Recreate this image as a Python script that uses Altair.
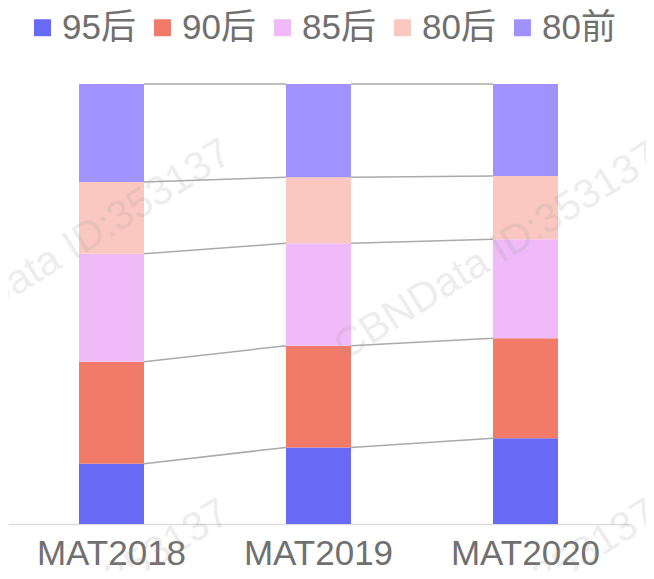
import altair as alt
import pandas as pd

categories = ["MAT2018", "MAT2019", "MAT2020"]
series = ["95后", "90后", "85后", "80后", "80前"]
colors = ["#686AF5", "#F27A68", "#EFBAF7", "#FAC8C0", "#A193FF"]

v95 = [13.7, 17.4, 19.5]
v90 = [23.2, 23.1, 22.7]
v85 = [24.5, 23.3, 22.5]
v80 = [16.3, 15.0, 14.4]
v80q = [22.3, 21.2, 20.9]

values = [v95, v90, v85, v80, v80q]

FONT = "Liberation Sans, Noto Sans CJK SC"
W, H = 621, 440
BAR = 65
STEP = W / 3
hw = (BAR / 2) / STEP
pin = 1 - BAR / STEP

rows = []
for si, s in enumerate(series):
    for ci, c in enumerate(categories):
        rows.append({"cat": c, "series": s, "rank": si, "value": values[si][ci]})
df = pd.DataFrame(rows)

cum = []
for ci in range(len(categories)):
    acc, lst = 0.0, []
    for si in range(len(series)):
        acc += values[si][ci]
        lst.append(acc)
    cum.append(lst)
lrows = []
for ci in range(len(categories) - 1):
    for si in range(len(series)):
        lrows.append({"xa": ci + hw, "xb": ci + 1 - hw, "ya": cum[ci][si], "yb": cum[ci + 1][si]})
ldf = pd.DataFrame(lrows)

yscale = alt.Scale(domain=[0, 100], nice=False)

bars = alt.Chart(df).mark_bar().encode(
    x=alt.X("cat:N", sort=categories,
            scale=alt.Scale(paddingInner=pin, paddingOuter=pin / 2),
            axis=alt.Axis(title=None, grid=False, ticks=False, labelAngle=0,
                          labelPadding=12, labelFontSize=35,
                          labelColor="#707070", labelFont=FONT, domainColor="#dddddd",
                          domainWidth=1.5)),
    y=alt.Y("value:Q", stack="zero", scale=yscale, axis=None),
    color=alt.Color("series:N", scale=alt.Scale(domain=series, range=colors),
                    legend=alt.Legend(title=None, orient="none", legendX=17, legendY=-74,
                                      direction="horizontal", columns=5, columnPadding=9,
                                      symbolType="square", symbolSize=289,
                                      labelFontSize=35, labelColor="#707070", labelFont=FONT,
                                      labelOffset=2, padding=0)),
    order=alt.Order("rank:Q", sort="ascending"),
)

lines = alt.Chart(ldf).mark_rule(color="#aaaaaa", strokeWidth=1.5).encode(
    x=alt.X("xa:Q", scale=alt.Scale(domain=[-0.5, 2.5], nice=False, zero=False), axis=None),
    x2="xb:Q",
    y=alt.Y("ya:Q", scale=yscale, axis=None),
    y2="yb:Q",
)

wm_df = pd.DataFrame({"t": ["CBNData ID:353137"]})
wm_layers = []
for px, py in [(226, 76), (654, 79), (224, 436), (652, 436)]:
    wm_layers.append(
        alt.Chart(wm_df).mark_text(
            angle=328, align="right", baseline="alphabetic", fontSize=41, font=FONT,
            color="#999999", opacity=0.17
        ).encode(x=alt.value(px), y=alt.value(py), text="t:N")
    )

chart = alt.layer(lines, bars, *wm_layers).resolve_scale(x="independent").properties(
    width=W, height=H,
    autosize=alt.AutoSizeParams(type="none"),
    padding={"left": 0, "top": 76, "right": 17, "bottom": 47},
).configure_view(strokeWidth=0)

chart.save("out.html", embed_options={"renderer": "svg", "actions": False})
